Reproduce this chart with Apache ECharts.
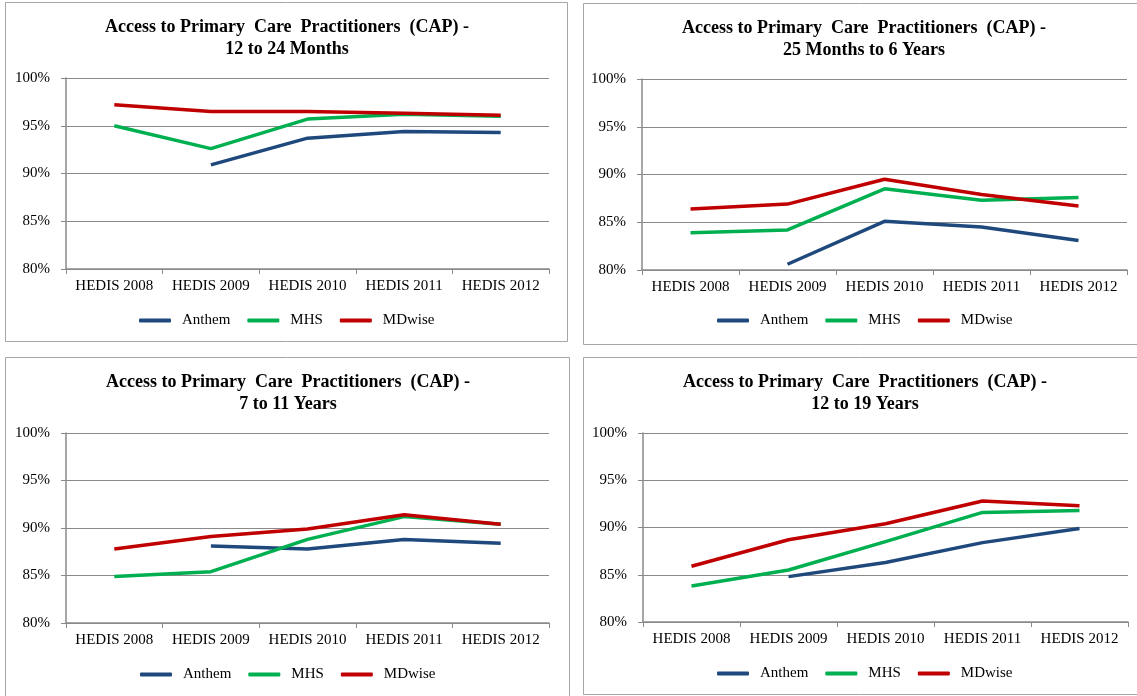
<!DOCTYPE html>
<html>
<head>
<meta charset="utf-8">
<script src="https://cdn.jsdelivr.net/npm/echarts@6/dist/echarts.min.js"></script>
<style>
html,body{margin:0;padding:0;background:#fff;}
#c{width:1137px;height:696px;}
</style>
</head>
<body>
<div id="c"></div>
<script>
var categories = ['HEDIS 2008','HEDIS 2009','HEDIS 2010','HEDIS 2011','HEDIS 2012'];
var seriesNames = ['Anthem','MHS','MDwise'];
var panelTitles = [
  'Access to Primary  Care  Practitioners  (CAP) -\n12 to 24 Months',
  'Access to Primary  Care  Practitioners  (CAP) -\n25 Months to 6 Years',
  'Access to Primary  Care  Practitioners  (CAP) -\n7 to 11 Years',
  'Access to Primary  Care  Practitioners  (CAP) -\n12 to 19 Years'
];
var yTicks = [80,85,90,95,100];

// Panel 1: 12 to 24 Months
var anthem1 = [null, 90.9, 93.7, 94.4, 94.3];
var mhs1    = [95.0, 92.6, 95.7, 96.2, 96.0];
var mdwise1 = [97.2, 96.5, 96.5, 96.3, 96.1];
// Panel 2: 25 Months to 6 Years
var anthem2 = [null, 80.6, 85.1, 84.5, 83.1];
var mhs2    = [83.9, 84.2, 88.5, 87.3, 87.6];
var mdwise2 = [86.4, 86.9, 89.5, 87.9, 86.7];
// Panel 3: 7 to 11 Years
var anthem3 = [null, 88.1, 87.8, 88.8, 88.4];
var mhs3    = [84.9, 85.4, 88.8, 91.2, 90.4];
var mdwise3 = [87.8, 89.1, 89.9, 91.4, 90.4];
// Panel 4: 12 to 19 Years
var anthem4 = [null, 84.8, 86.3, 88.4, 89.9];
var mhs4    = [83.8, 85.5, 88.5, 91.6, 91.8];
var mdwise4 = [85.9, 88.7, 90.4, 92.8, 92.3];

var panelData = [
  [anthem1, mhs1, mdwise1],
  [anthem2, mhs2, mdwise2],
  [anthem3, mhs3, mdwise3],
  [anthem4, mhs4, mdwise4]
];

var colors = ['#1F497D', '#00B050', '#C00000'];
var FONT = '"Liberation Serif", "Times New Roman", serif';
var gridCol = '#8a8a8a';

// layout (px)
var grids = [
  {left: 66,  top: 78,  width: 483, height: 191},
  {left: 642, top: 79,  width: 485, height: 191},
  {left: 66,  top: 433, width: 483, height: 190},
  {left: 643, top: 433, width: 485, height: 189}
];
var titlePos = [
  {x: 287, y: 16}, {x: 864, y: 17}, {x: 288, y: 371}, {x: 865, y: 371}
];
var legendPos = [
  {x: 139, y: 313}, {x: 717, y: 313}, {x: 140, y: 667}, {x: 717, y: 666}
];
var panels = [
  {x: 5.5, y: 2.5, w: 562, h: 339},
  {x: 583.5, y: 3.5, w: 560, h: 341},
  {x: 5.5, y: 357.5, w: 564, h: 345},
  {x: 583.5, y: 357.5, w: 560, h: 337}
];

var option = {
  animation: false,
  backgroundColor: '#ffffff',
  title: [], legend: [], grid: [], xAxis: [], yAxis: [], series: [],
  graphic: []
};

panels.forEach(function(p){
  option.graphic.push({
    type: 'rect', shape: {x: p.x, y: p.y, width: p.w, height: p.h},
    style: {fill: 'none', stroke: '#a6a6a6', lineWidth: 1}, silent: true, z: -10
  });
});

for (var i = 0; i < 4; i++) {
  option.title.push({
    text: panelTitles[i],
    left: titlePos[i].x, top: titlePos[i].y, textAlign: 'center', padding: 0,
    textStyle: {fontFamily: FONT, fontWeight: 'bold', fontSize: 18, lineHeight: 22, color: '#000'}
  });
  option.grid.push({left: grids[i].left, top: grids[i].top, width: grids[i].width, height: grids[i].height, containLabel: false});
  option.xAxis.push({
    type: 'category', gridIndex: i, data: categories, boundaryGap: true,
    axisLine: {lineStyle: {color: gridCol, width: 1.5}},
    axisTick: {show: true, length: 5, alignWithLabel: false, lineStyle: {color: gridCol}},
    axisLabel: {fontFamily: FONT, fontSize: 15, color: '#000', margin: 10, interval: 0}
  });
  option.yAxis.push({
    type: 'value', gridIndex: i, min: 80, max: 100, interval: 5,
    axisLine: {show: true, lineStyle: {color: gridCol, width: 1.5}},
    axisTick: {show: true, length: 5, lineStyle: {color: gridCol}},
    splitLine: {show: true, lineStyle: {color: gridCol, width: 1}},
    axisLabel: {fontFamily: FONT, fontSize: 15, color: '#000', margin: 16, formatter: '{value}%'}
  });
  option.legend.push({
    left: legendPos[i].x, top: legendPos[i].y, orient: 'horizontal', padding: 0,
    icon: 'roundRect', itemWidth: 32, itemHeight: 4, itemGap: 17,
    data: seriesNames.map(function(n){ return {name: n}; }),
    textStyle: {fontFamily: FONT, fontSize: 15, color: '#000', padding: [0,0,0,6]},
    selectedMode: false
  });
  for (var s = 0; s < 3; s++) {
    option.series.push({
      type: 'line', name: seriesNames[s], xAxisIndex: i, yAxisIndex: i,
      data: panelData[i][s], symbol: 'none', connectNulls: false,
      lineStyle: {color: colors[s], width: 3.5},
      itemStyle: {color: colors[s]},
      z: 2 + s
    });
  }
}

var chart = echarts.init(document.getElementById('c'), null, {renderer: 'canvas'});
chart.setOption(option);
</script>
</body>
</html>
